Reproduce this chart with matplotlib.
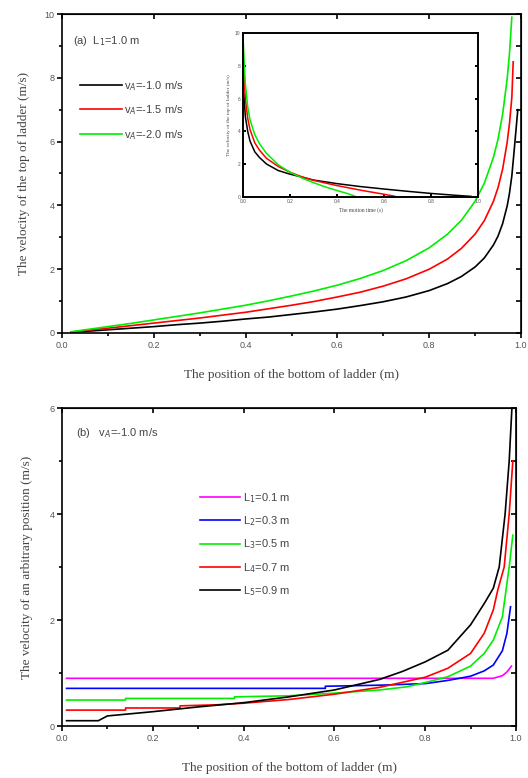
import matplotlib
matplotlib.use("Agg")
import matplotlib.pyplot as plt
from matplotlib.ticker import MultipleLocator

# ---------------- data: panel (a) main ----------------
xa = [0.02, 0.05, 0.1, 0.15, 0.2, 0.25, 0.3, 0.35, 0.4, 0.45, 0.5, 0.55, 0.6, 0.65,
      0.7, 0.75, 0.8, 0.84, 0.87, 0.9, 0.92, 0.94, 0.95, 0.96, 0.97, 0.975, 0.98, 0.985, 0.993]
va_black = [0.02, 0.05, 0.10, 0.15, 0.20, 0.26, 0.31, 0.37, 0.44, 0.50, 0.58, 0.66, 0.75, 0.86,
            0.98, 1.13, 1.33, 1.55, 1.77, 2.07, 2.35, 2.76, 3.04, 3.43, 3.99, 4.39, 4.92, 5.70, 7.0]
xa_red = [0.02, 0.05, 0.1, 0.15, 0.2, 0.25, 0.3, 0.35, 0.4, 0.45, 0.5, 0.55, 0.6, 0.65,
          0.7, 0.75, 0.8, 0.84, 0.87, 0.9, 0.92, 0.94, 0.95, 0.96, 0.97, 0.975, 0.98, 0.983]
va_red = [0.03, 0.08, 0.15, 0.23, 0.31, 0.39, 0.47, 0.56, 0.65, 0.76, 0.87, 0.99, 1.13, 1.28,
          1.47, 1.70, 2.00, 2.32, 2.65, 3.10, 3.52, 4.13, 4.56, 5.14, 5.99, 6.58, 7.38, 8.5]
xa_green = [0.02, 0.05, 0.1, 0.15, 0.2, 0.25, 0.3, 0.35, 0.4, 0.45, 0.5, 0.55, 0.6, 0.65,
            0.7, 0.75, 0.8, 0.84, 0.87, 0.9, 0.92, 0.94, 0.95, 0.96, 0.97, 0.975, 0.98]
va_green = [0.04, 0.10, 0.20, 0.30, 0.41, 0.52, 0.63, 0.75, 0.87, 1.01, 1.16, 1.32, 1.50, 1.71,
            1.96, 2.27, 2.67, 3.10, 3.53, 4.13, 4.69, 5.51, 6.08, 6.86, 7.98, 8.78, 9.9]
labels_a = ["v$_A$=-1.0 m/s", "v$_A$=-1.5 m/s", "v$_A$=-2.0 m/s"]
colors_a = ["black", "#ff0000", "#00ee00"]

# ---------------- data: panel (a) inset ----------------
t_black = [0, 0.005, 0.01, 0.02, 0.03, 0.05, 0.07, 0.1, 0.15, 0.2, 0.25, 0.3, 0.4, 0.5,
           0.6, 0.7, 0.8, 0.9, 0.97]
vt_black = [7.0, 6.0, 4.9, 4.0, 3.4, 2.75, 2.4, 2.0, 1.6, 1.38, 1.2, 1.02, 0.8, 0.62,
            0.47, 0.33, 0.2, 0.09, 0.02]
t_red = [0, 0.005, 0.01, 0.02, 0.03, 0.05, 0.07, 0.1, 0.15, 0.2, 0.25, 0.3, 0.4, 0.5, 0.6, 0.645]
vt_red = [8.5, 7.2, 6.0, 4.8, 4.1, 3.3, 2.85, 2.35, 1.85, 1.5, 1.22, 1.0, 0.68, 0.4, 0.15, 0.03]
t_green = [0, 0.005, 0.01, 0.02, 0.03, 0.05, 0.07, 0.1, 0.15, 0.2, 0.25, 0.3, 0.35, 0.4, 0.45, 0.475]
vt_green = [9.85, 8.3, 6.9, 5.5, 4.7, 3.8, 3.25, 2.65, 1.95, 1.5, 1.15, 0.86, 0.6, 0.38, 0.17, 0.04]

# ---------------- data: panel (b) ----------------
xb1 = [0.01, 0.95, 0.97, 0.98, 0.99]
vb1 = [0.90, 0.90, 0.95, 1.02, 1.13]
xb2 = [0.01, 0.58, 0.58, 0.7, 0.8, 0.85, 0.9, 0.93, 0.95, 0.97, 0.98, 0.988]
vb2 = [0.71, 0.71, 0.75, 0.77, 0.80, 0.86, 0.94, 1.04, 1.15, 1.42, 1.75, 2.25]
xb3 = [0.01, 0.14, 0.14, 0.38, 0.38, 0.5, 0.6, 0.7, 0.76, 0.8, 0.85, 0.9, 0.93, 0.95,
       0.97, 0.985, 0.993]
vb3 = [0.49, 0.49, 0.52, 0.52, 0.55, 0.57, 0.62, 0.68, 0.74, 0.82, 0.93, 1.13, 1.37, 1.62,
       2.06, 3.0, 3.6]
xb4 = [0.01, 0.14, 0.14, 0.26, 0.26, 0.34, 0.4, 0.5, 0.6, 0.7, 0.8, 0.85, 0.9, 0.93,
       0.95, 0.96, 0.974, 0.985, 0.993]
vb4 = [0.30, 0.30, 0.34, 0.34, 0.38, 0.40, 0.43, 0.50, 0.60, 0.73, 0.92, 1.09, 1.37, 1.75,
       2.19, 2.57, 3.0, 4.0, 5.0]
xb5 = [0.01, 0.08, 0.1, 0.2, 0.3, 0.4, 0.5, 0.6, 0.7, 0.75, 0.8, 0.85, 0.9, 0.93, 0.95,
       0.963, 0.976, 0.985, 0.991]
vb5 = [0.10, 0.10, 0.19, 0.27, 0.36, 0.44, 0.55, 0.68, 0.88, 1.03, 1.21, 1.43, 1.91, 2.31,
       2.6, 3.0, 4.0, 5.0, 6.0]
labels_b = ["L$_1$=0.1 m", "L$_2$=0.3 m", "L$_3$=0.5 m", "L$_4$=0.7 m", "L$_5$=0.9 m"]
colors_b = ["#ff00ff", "#0000ff", "#00ee00", "#ff0000", "black"]

W, H = 528, 778
fig = plt.figure(figsize=(W / 100, H / 100), dpi=100)

TXT = "#444444"
TICKC = "#555555"
serif = ["Liberation Serif", "DejaVu Serif"]
sans = ["Liberation Sans", "DejaVu Sans"]


def style(ax, xmaj, xmin, ymaj, ymin, fs=6.5, lw=1.2, tl=3.5):
    ax.xaxis.set_major_locator(MultipleLocator(xmaj))
    ax.xaxis.set_minor_locator(MultipleLocator(xmin))
    ax.yaxis.set_major_locator(MultipleLocator(ymaj))
    ax.yaxis.set_minor_locator(MultipleLocator(ymin))
    for s in ax.spines.values():
        s.set_linewidth(lw)
    ax.tick_params(which="both", direction="out", top=False, right=False,
                   width=lw, labelsize=fs, labelcolor=TICKC, pad=2)
    ax.tick_params(which="major", length=tl)
    ax.tick_params(which="minor", length=tl * 0.6)
    for lab in ax.get_xticklabels() + ax.get_yticklabels():
        lab.set_family(sans)


def mirror(ax, lw=1.2, tl=3.5):
    tx = ax.secondary_xaxis("top")
    tx.xaxis.set_major_locator(ax.xaxis.get_major_locator())
    tx.tick_params(direction="in", length=tl, width=lw, labeltop=False)
    ty = ax.secondary_yaxis("right")
    ty.yaxis.set_major_locator(MultipleLocator(1))
    ty.tick_params(direction="in", length=tl, width=lw, labelright=False)


# ---------- panel (a) ----------
ax1 = fig.add_axes([62 / W, 1 - 333 / H, 459 / W, 319 / H])
ax1.plot(xa, va_black, color=colors_a[0], lw=1.2, label=labels_a[0])
ax1.plot(xa_red, va_red, color=colors_a[1], lw=1.2, label=labels_a[1])
ax1.plot(xa_green, va_green, color=colors_a[2], lw=1.2, label=labels_a[2])
ax1.set_xlim(0, 1.0)
ax1.set_ylim(0, 10)
style(ax1, 0.2, 0.1, 2, 1)
mirror(ax1)
ax1.set_xlabel("The position of the bottom of ladder (m)", family=serif, fontsize=9.5,
               color=TXT, labelpad=14)
ax1.set_ylabel("The velocity of the top of ladder (m/s)", family=serif, fontsize=9.5,
               color=TXT, labelpad=10)
ax1.text(73 / W, 1 - 41 / H, "(a)  L$_1$=1.0 m", transform=fig.transFigure,
         family=sans, fontsize=8, color=TXT, va="center", ha="left")
leg1 = ax1.legend(loc="upper left", bbox_to_anchor=(80 / W, 1 - 79 / H),
                  bbox_transform=fig.transFigure, frameon=False, fontsize=8,
                  handlelength=3.8, handletextpad=0.2, labelspacing=0.95,
                  borderpad=0, borderaxespad=0)
for t in leg1.get_texts():
    t.set_color(TXT)
    t.set_family(sans)

# ---------- inset ----------
ax_in = fig.add_axes([243 / W, 1 - 196.7 / H, 235 / W, 163.4 / H])
ax_in.plot(t_black, vt_black, color=colors_a[0], lw=1.1)
ax_in.plot(t_red, vt_red, color=colors_a[1], lw=1.1)
ax_in.plot(t_green, vt_green, color=colors_a[2], lw=1.1)
ax_in.set_xlim(0, 1.0)
ax_in.set_ylim(0, 10)
style(ax_in, 0.2, 0.2, 2, 2, fs=3.5, lw=1.4, tl=2)
ax_in.tick_params(axis="y", which="both", direction="in")
ax_in.tick_params(axis="x", which="both", direction="in")
ax_in.tick_params(right=True, which="major", direction="in")
ax_in.set_xlabel("The motion time (s)", family=serif, fontsize=4, color=TXT, labelpad=2)
ax_in.set_ylabel("The velocity of the top of ladder (m/s)", family=serif, fontsize=3.8,
                 color=TXT, labelpad=3)

# ---------- panel (b) ----------
ax2 = fig.add_axes([62 / W, 1 - 726 / H, 454 / W, 318 / H])
for xs, vs, c, lab in zip([xb1, xb2, xb3, xb4, xb5], [vb1, vb2, vb3, vb4, vb5],
                          colors_b, labels_b):
    ax2.plot(xs, vs, color=c, lw=1.2, label=lab)
ax2.set_xlim(0, 1.0)
ax2.set_ylim(0, 6)
style(ax2, 0.2, 0.1, 2, 1)
mirror(ax2)
ax2.set_xlabel("The position of the bottom of ladder (m)", family=serif, fontsize=9.5,
               color=TXT, labelpad=14)
ax2.set_ylabel("The velocity of an arbitrary position (m/s)", family=serif, fontsize=9.5,
               color=TXT, labelpad=12)
ax2.text(76 / W, 1 - 433 / H, "(b)   v$_A$=-1.0 m/s", transform=fig.transFigure,
         family=sans, fontsize=8, color=TXT, va="center", ha="left")
leg2 = ax2.legend(loc="upper left", bbox_to_anchor=(200 / W, 1 - 491 / H),
                  bbox_transform=fig.transFigure, frameon=False, fontsize=8,
                  handlelength=3.6, handletextpad=0.3, labelspacing=0.85,
                  borderpad=0, borderaxespad=0)
for t in leg2.get_texts():
    t.set_color(TXT)
    t.set_family(sans)

fig.savefig("out.png", dpi=100)
